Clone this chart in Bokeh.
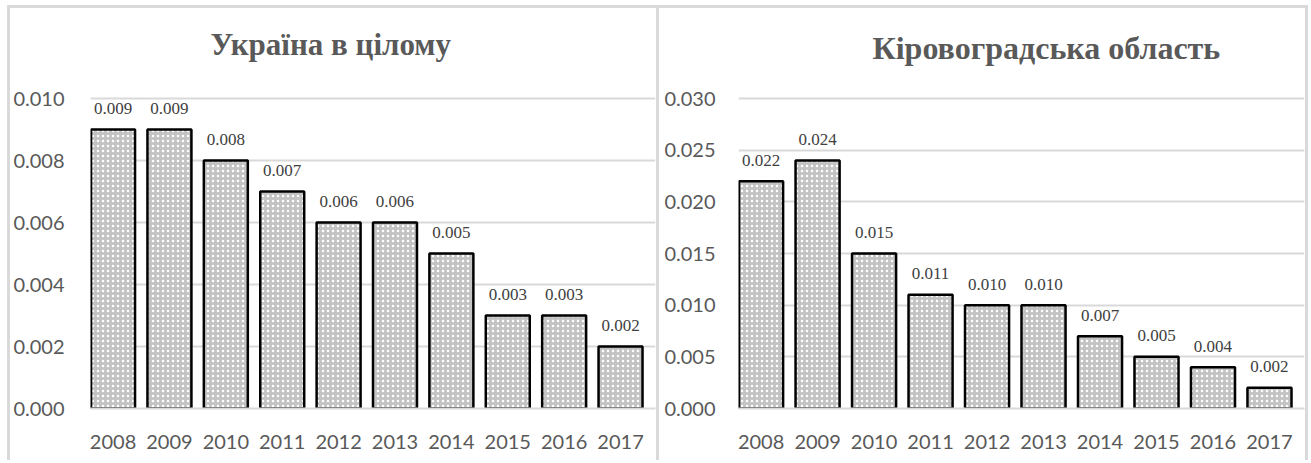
from bokeh.plotting import figure
from bokeh.layouts import row
from bokeh.models import (FixedTicker, Range1d, ColumnDataSource, LabelSet, Label,
                          NumeralTickFormatter)
from bokeh.embed import file_html
from bokeh.resources import INLINE

# Data
years = ["2008", "2009", "2010", "2011", "2012", "2013", "2014", "2015", "2016", "2017"]
ukraine = [0.009, 0.009, 0.008, 0.007, 0.006, 0.006, 0.005, 0.003, 0.003, 0.002]
kirovohrad = [0.022, 0.024, 0.015, 0.011, 0.010, 0.010, 0.007, 0.005, 0.004, 0.002]
ukraine_ticks = [0.000, 0.002, 0.004, 0.006, 0.008, 0.010]
kirovohrad_ticks = [0.000, 0.005, 0.010, 0.015, 0.020, 0.025, 0.030]

GRID = "#d9d9d9"
AXIS_TEXT = "#595959"
BORDER = "3px solid #d9d9d9"

FRAME_H = 400      # plot frame height in px (heading sits inside its top part)
AXIS_H = 310       # px taken by the tick range


def panel(title, values, ticks, width, styles, margin, border_left, border_right,
          label_standoff, title_x, title_y, title_size):
    # extend the range above the last tick so the heading fits inside the frame
    top = ticks[-1] * FRAME_H / AXIS_H
    p = figure(width=width, height=455, output_backend="svg", toolbar_location=None,
               x_range=Range1d(-0.4, 9.62), y_range=Range1d(ticks[0], top),
               min_border_left=border_left, min_border_right=border_right,
               min_border_top=0, min_border_bottom=55,
               outline_line_color=None, title=None,
               styles=styles, margin=margin)

    src = ColumnDataSource(dict(
        x=list(range(len(years))),
        v=values,
        lbl=["%.3f" % v for v in values],
    ))

    p.vbar(x="x", top="v", width=0.78, source=src,
           fill_color="#c3c3c3", hatch_pattern="dot", hatch_color="white",
           hatch_scale=5, hatch_weight=1.6,
           line_color="black", line_width=2.5)

    p.add_layout(LabelSet(x="x", y="v", text="lbl", source=src,
                          y_offset=21, text_align="center", text_baseline="middle",
                          text_font="Liberation Serif", text_font_size="17px",
                          text_color="#404040"))

    # chart heading, placed relative to the plot frame
    p.add_layout(Label(x=title_x, y=title_y, x_units="screen", y_units="screen",
                       text=title, text_font="Liberation Serif",
                       text_font_size=title_size, text_font_style="bold",
                       text_color=AXIS_TEXT, text_align="left",
                       text_baseline="alphabetic"))

    # y axis
    p.yaxis.ticker = FixedTicker(ticks=ticks)
    p.yaxis.formatter = NumeralTickFormatter(format="0.000")
    p.yaxis.axis_line_color = None
    p.yaxis.major_tick_line_color = None
    p.yaxis.major_tick_out = 0
    p.yaxis.major_tick_in = 0
    p.yaxis.minor_tick_line_color = None
    p.yaxis.major_label_text_font = "Lato"
    p.yaxis.major_label_text_font_size = "20px"
    p.yaxis.major_label_text_color = AXIS_TEXT
    p.yaxis.major_label_standoff = label_standoff

    # x axis
    p.xaxis.ticker = FixedTicker(ticks=list(range(len(years))))
    p.xaxis.major_label_overrides = {i: y for i, y in enumerate(years)}
    p.xaxis.axis_line_color = GRID
    p.xaxis.axis_line_width = 2
    p.xaxis.major_tick_line_color = None
    p.xaxis.major_tick_out = 0
    p.xaxis.major_tick_in = 0
    p.xaxis.minor_tick_line_color = None
    p.xaxis.major_label_text_font = "Lato"
    p.xaxis.major_label_text_font_size = "20px"
    p.xaxis.major_label_text_color = AXIS_TEXT
    p.xaxis.major_label_standoff = 26

    p.xgrid.grid_line_color = None
    p.ygrid.grid_line_color = GRID
    p.ygrid.grid_line_width = 2
    return p


left = panel("Україна в цілому", ukraine, ukraine_ticks, 652,
             styles={"border-top": BORDER, "border-left": BORDER, "border-right": BORDER},
             margin=(5, 0, 0, 7), border_left=77, border_right=7, label_standoff=26,
             title_x=120, title_y=364, title_size="31px")
right = panel("Кіровоградська область", kirovohrad, kirovohrad_ticks, 649,
              styles={"border-top": BORDER, "border-right": BORDER},
              margin=(5, 0, 0, 0), border_left=79, border_right=4, label_standoff=23,
              title_x=134, title_y=361, title_size="32px")

layout = row(left, right, spacing=0)
open("out.html", "w").write(file_html(layout, INLINE))
